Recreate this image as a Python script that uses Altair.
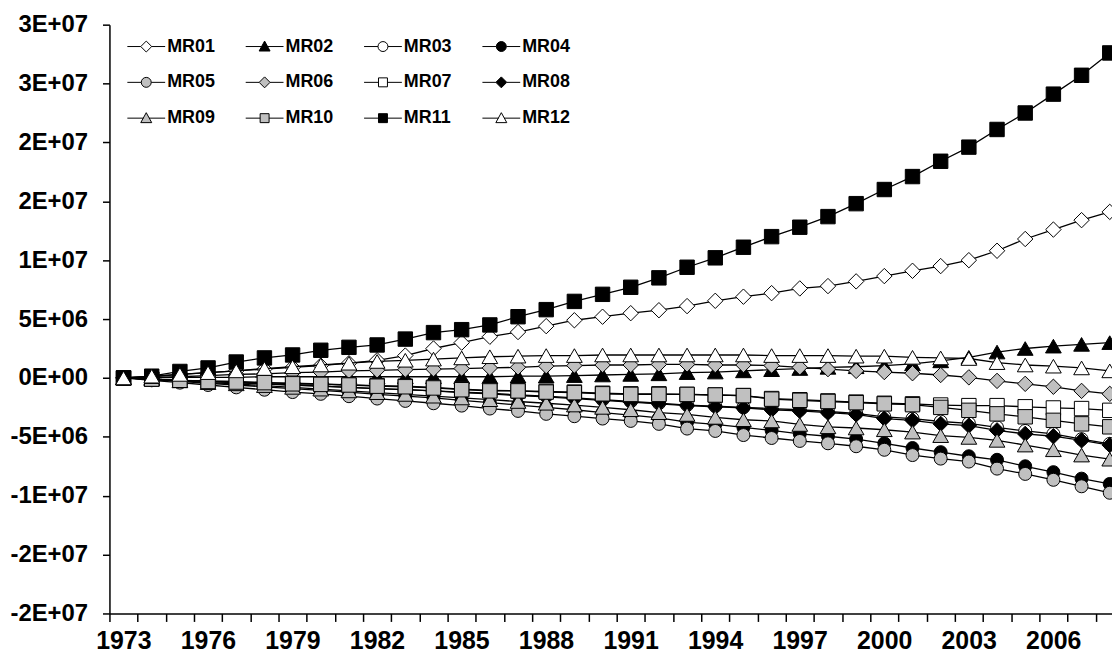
import altair as alt
import pandas as pd

years = list(range(1973, 2009))
names = ["MR01", "MR02", "MR03", "MR04", "MR05", "MR06",
         "MR07", "MR08", "MR09", "MR10", "MR11", "MR12"]

# values in millions (1973 .. 2008)
MR01 = [0, 0.1, 0.3, 0.45, 0.6, 0.75, 0.9, 1.05, 1.25, 1.5,
        1.9, 2.5, 3.0, 3.5, 3.9, 4.4, 4.9, 5.2, 5.5, 5.75,
        6.1, 6.55, 6.9, 7.2, 7.6, 7.8, 8.2, 8.65, 9.1, 9.5,
        10.0, 10.8, 11.8, 12.6, 13.4, 14.1]
MR02 = [0, 0, 0.05, 0.05, 0.05, 0.1, 0.1, 0.1, 0.1, 0.1,
        0.1, 0.1, 0.1, 0.1, 0.15, 0.15, 0.2, 0.25, 0.3, 0.35,
        0.45, 0.5, 0.6, 0.7, 0.8, 0.9, 0.95, 1.05, 1.2, 1.45,
        1.75, 2.2, 2.5, 2.7, 2.85, 3.0]
MR03 = [0, -0.1, -0.2, -0.3, -0.4, -0.5, -0.6, -0.7, -0.8, -0.9,
        -1.0, -1.1, -1.2, -1.3, -1.45, -1.55, -1.7, -1.85, -2.0, -2.15,
        -2.3, -2.4, -2.5, -2.6, -2.7, -2.85, -3.0, -3.3, -3.45, -3.7,
        -3.85, -4.2, -4.5, -4.75, -5.2, -5.6]
MR04 = [0, -0.15, -0.3, -0.45, -0.6, -0.75, -0.9, -1.05, -1.2, -1.4,
        -1.55, -1.7, -1.9, -2.1, -2.3, -2.5, -2.7, -2.95, -3.15, -3.4,
        -3.75, -3.95, -4.2, -4.45, -4.75, -4.95, -5.2, -5.55, -5.95, -6.3,
        -6.65, -6.95, -7.5, -8.0, -8.55, -9.0]
MR05 = [0, -0.2, -0.4, -0.6, -0.8, -1.0, -1.2, -1.35, -1.55, -1.75,
        -1.95, -2.15, -2.35, -2.6, -2.8, -3.05, -3.25, -3.45, -3.65, -3.9,
        -4.3, -4.5, -4.85, -5.1, -5.35, -5.55, -5.8, -6.1, -6.55, -6.85,
        -7.1, -7.7, -8.15, -8.65, -9.2, -9.75]
MR06 = [0, 0.05, 0.1, 0.2, 0.3, 0.35, 0.45, 0.5, 0.6, 0.65,
        0.7, 0.75, 0.8, 0.85, 0.9, 1.0, 1.05, 1.1, 1.1, 1.15,
        1.15, 1.1, 1.1, 1.05, 0.9, 0.75, 0.6, 0.5, 0.4, 0.25,
        0.05, -0.25, -0.5, -0.75, -1.1, -1.35]
MR07 = [0, -0.1, -0.2, -0.25, -0.3, -0.4, -0.45, -0.5, -0.6, -0.65,
        -0.7, -0.8, -0.95, -1.05, -1.1, -1.15, -1.2, -1.3, -1.35, -1.35,
        -1.4, -1.45, -1.5, -1.75, -1.85, -1.95, -2.05, -2.15, -2.2, -2.3,
        -2.35, -2.35, -2.45, -2.55, -2.6, -2.75]
MR08 = [0, -0.1, -0.2, -0.3, -0.4, -0.5, -0.6, -0.7, -0.8, -0.9,
        -1.0, -1.1, -1.25, -1.35, -1.5, -1.6, -1.75, -1.9, -2.05, -2.2,
        -2.35, -2.45, -2.55, -2.7, -2.8, -2.95, -3.1, -3.45, -3.6, -3.9,
        -4.05, -4.45, -4.75, -4.95, -5.3, -5.7]
MR09 = [0, -0.1, -0.25, -0.4, -0.5, -0.65, -0.8, -0.95, -1.1, -1.25,
        -1.4, -1.55, -1.7, -1.85, -2.0, -2.15, -2.3, -2.5, -2.7, -2.95,
        -3.1, -3.35, -3.55, -3.65, -3.95, -4.15, -4.25, -4.4, -4.6, -4.9,
        -5.05, -5.3, -5.7, -6.1, -6.55, -6.9]
MR10 = [0, -0.1, -0.2, -0.3, -0.35, -0.4, -0.5, -0.55, -0.6, -0.7,
        -0.75, -0.85, -1.0, -1.1, -1.1, -1.2, -1.25, -1.35, -1.4, -1.4,
        -1.4, -1.45, -1.5, -1.8, -1.9, -2.0, -2.1, -2.2, -2.27, -2.5,
        -2.75, -3.05, -3.3, -3.6, -3.9, -4.15]
MR11 = [0, 0.15, 0.55, 0.85, 1.35, 1.7, 1.95, 2.35, 2.6, 2.8,
        3.3, 3.85, 4.1, 4.5, 5.2, 5.8, 6.5, 7.1, 7.7, 8.5,
        9.4, 10.2, 11.1, 12.0, 12.8, 13.7, 14.8, 16.0, 17.1, 18.4,
        19.6, 21.1, 22.5, 24.1, 25.7, 27.6]
MR12 = [0, 0.15, 0.3, 0.45, 0.6, 0.8, 0.95, 1.1, 1.25, 1.4,
        1.5, 1.6, 1.7, 1.8, 1.85, 1.9, 1.9, 1.95, 1.95, 1.95,
        1.95, 1.95, 1.95, 1.9, 1.9, 1.9, 1.85, 1.85, 1.75, 1.7,
        1.65, 1.3, 1.1, 1.0, 0.85, 0.6]

series_values = [MR01, MR02, MR03, MR04, MR05, MR06,
                 MR07, MR08, MR09, MR10, MR11, MR12]

marker_shapes = ["diamond", "triangle-up", "circle", "circle", "circle", "diamond",
                 "square", "diamond", "triangle-up", "square", "square", "triangle-up"]
marker_fills = ["white", "black", "white", "black", "#c0c0c0", "#c0c0c0",
                "white", "black", "#c0c0c0", "#c0c0c0", "black", "white"]

y_tick_values = [-20e6, -15e6, -10e6, -5e6, 0, 5e6, 10e6, 15e6, 20e6, 25e6, 30e6]
y_tick_labels = ["-2E+07", "-2E+07", "-1E+07", "-5E+06", "0E+00", "5E+06",
                 "1E+07", "2E+07", "2E+07", "3E+07", "3E+07"]
x_label_years = [1973, 1976, 1979, 1982, 1985, 1988, 1991, 1994, 1997, 2000, 2003, 2006]

rows = []
for n, vals in zip(names, series_values):
    for yr, v in zip(years, vals):
        rows.append({"year": yr, "series": n, "value": v * 1e6})
df = pd.DataFrame(rows)

FONT = "Liberation Sans"

size_for = {"diamond": 240, "triangle-up": 250, "circle": 170, "square": 210}

# legend symbols: line stub + marker (custom path, unit = half marker)
seg = {"diamond": "M-3.8,0H-1.1M1.1,0H3.8",
       "circle": "M-3.8,0H-1M1,0H3.8",
       "square": "M-3.8,0H-0.9M0.9,0H3.8",
       "triangle-up": "M-3.8,0H-0.55M0.55,0H3.8"}
body = {"diamond": "M0,-1.1L1.1,0L0,1.1L-1.1,0Z",
        "circle": "M1,0A1,1,0,1,1,-1,0A1,1,0,1,1,1,0Z",
        "square": "M-0.9,-0.9H0.9V0.9H-0.9Z",
        "triangle-up": "M0,-1.1L1.1,0.9L-1.1,0.9Z"}
legend_paths = [seg[s] + body[s] for s in marker_shapes]
legend_strokes = ["black"] * len(names)

y_expr = "[" + ",".join("'%s'" % t for t in y_tick_labels) + \
    "][round((datum.value - (%d)) / 5000000)]" % int(y_tick_values[0])
x_expr = "indexof([" + ",".join(str(v) for v in x_label_years) + \
    "], datum.value + 0.5) >= 0 ? toString(datum.value + 0.5) : ''"

xscale = alt.Scale(domain=[1972.5, 2008.08], nice=False, zero=False)
yscale = alt.Scale(domain=[y_tick_values[0], y_tick_values[-1]], nice=False, zero=False)

xaxis = alt.Axis(values=[y - 0.5 for y in years], labelExpr=x_expr, title=None,
                 grid=False, tickSize=8, labelPadding=7, labelOffset=14,
                 labelFontSize=25,
                 labelOverlap=False, labelBound=False, labelFlush=False)
yaxis = alt.Axis(values=y_tick_values, labelExpr=y_expr, title=None, grid=False,
                 tickSize=7, labelPadding=15, labelFontSize=24, labelOverlap=False)

base = alt.Chart(df).encode(
    x=alt.X("year:Q", scale=xscale, axis=xaxis),
    y=alt.Y("value:Q", scale=yscale, axis=yaxis),
)

layers = []
for n, shp, fc in zip(names, marker_shapes, marker_fills):
    sub = base.transform_filter(alt.datum.series == n)
    layers.append(sub.mark_line(color="black", strokeWidth=1.3, clip=True))
    layers.append(sub.mark_point(shape=shp, fill=fc, filled=True, stroke="black",
                                 strokeWidth=1, size=size_for[shp], opacity=1, clip=True))

leg = alt.Legend(title=None, orient="none", legendX=28, legendY=13, columns=4,
                 direction="horizontal",
                 symbolSize=100, symbolStrokeWidth=1, symbolStrokeColor="black",
                 symbolOpacity=1,
                 labelFont=FONT, labelFontSize=18, labelFontWeight="bold",
                 labelColor="black", labelOffset=12, rowPadding=18,
                 columnPadding=28, padding=0)

legend_layer = alt.Chart(pd.DataFrame({"series": names})).transform_filter(
    "datum.series == 'none'"
).mark_point(filled=True, strokeWidth=1, opacity=1).encode(
    shape=alt.Shape("series:N", scale=alt.Scale(domain=names, range=legend_paths), legend=leg),
    fill=alt.Fill("series:N", scale=alt.Scale(domain=names, range=marker_fills), legend=leg),
    stroke=alt.Stroke("series:N", scale=alt.Scale(domain=names, range=legend_strokes), legend=leg),
)

chart = alt.layer(*layers, legend_layer).properties(
    width=1008, height=592,
    autosize=alt.AutoSizeParams(type="none"),
    padding={"left": 102, "top": 15, "right": 0, "bottom": 38},
    background="white",
).configure_view(stroke=None).configure_axis(
    labelFont=FONT, labelFontWeight="bold", labelColor="black",
    domainColor="black", tickColor="black", domainWidth=1.5, tickWidth=1.5,
)

chart.save("out.html", embed_options={"renderer": "svg", "actions": False})
